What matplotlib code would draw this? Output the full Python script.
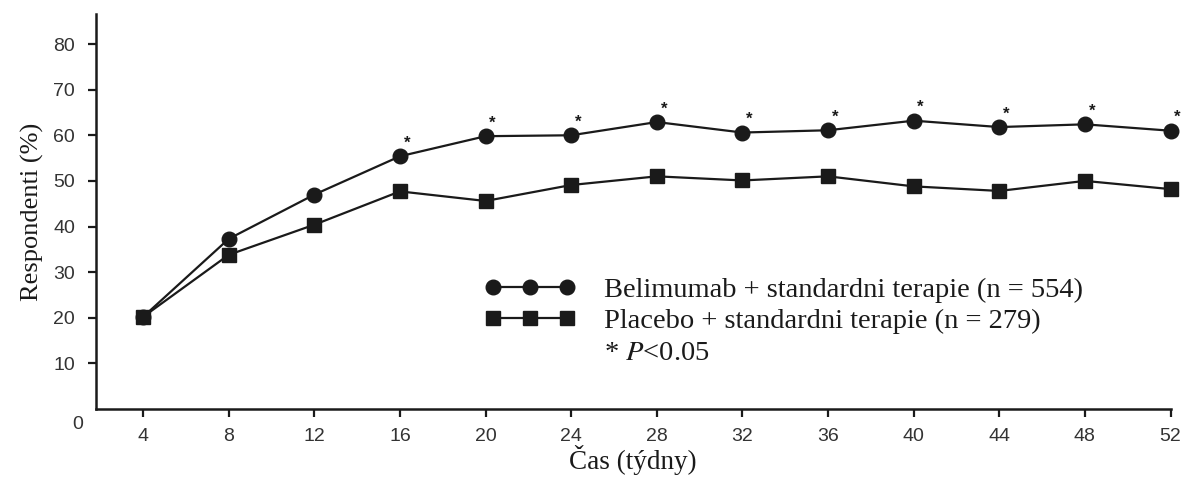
import numpy as np
import matplotlib.pyplot as plt
from matplotlib.lines import Line2D

plt.rcParams['mathtext.fontset'] = 'stix'

weeks = [4, 8, 12, 16, 20, 24, 28, 32, 36, 40, 44, 48, 52]
belimumab = [20.2, 37.3, 47.0, 55.4, 59.8, 60.0, 62.9, 60.6, 61.1, 63.2, 61.8, 62.4, 61.0]
placebo = [20.2, 33.8, 40.4, 47.7, 45.6, 49.1, 51.0, 50.1, 51.0, 48.8, 47.8, 50.0, 48.2]
signif = [False, False, False, True, True, True, True, True, True, True, True, True, True]

lab_bel = 'Belimumab + standardni terapie (n = 554)'
lab_pla = 'Placebo + standardni terapie (n = 279)'
lab_p = '* $P$<0.05'

serif = 'Liberation Serif'
sans = 'Liberation Sans'
ink = '#1a1a1a'

fig = plt.figure(figsize=(11.84, 4.97), dpi=100)
ax = fig.add_axes([0.0811, 0.177, 0.9075, 0.795])

l1, = ax.plot(weeks, belimumab, color=ink, lw=1.6, marker='o', ms=10.5, clip_on=False, zorder=3)
l2, = ax.plot(weeks, placebo, color=ink, lw=1.6, marker='s', ms=9.5, clip_on=False, zorder=3)

# significance stars
for w, b, s in zip(weeks, belimumab, signif):
    if s:
        ax.annotate('*', (w, b), xytext=(5, 4), textcoords='offset points',
                    fontsize=12, weight='bold', family=sans, color=ink,
                    ha='center', va='bottom')

ax.set_xlim(1.8, 52)
ax.set_ylim(0, 86.6)
ax.set_xticks(weeks)
ax.set_yticks(np.arange(10, 81, 10))
for sp in ['top', 'right']:
    ax.spines[sp].set_visible(False)
for sp in ['left', 'bottom']:
    ax.spines[sp].set_linewidth(1.8)
    ax.spines[sp].set_color(ink)
ax.tick_params(direction='out', length=6, width=1.6, color=ink, labelcolor='#333333',
               labelsize=14)
ax.tick_params(axis='x', pad=8)
ax.tick_params(axis='y', pad=9)
for t in ax.get_xticklabels() + ax.get_yticklabels():
    t.set_family(sans)
ax.text(-0.017, -0.04, '0', transform=ax.transAxes, fontsize=14, family=sans,
        color='#333333', ha='center', va='center')

ax.set_ylabel('Respondenti (%)', family=serif, fontsize=19, color=ink, labelpad=7)
ax.set_xlabel('Čas (týdny)', family=serif, fontsize=19.5, color=ink, labelpad=0)

blank = Line2D([], [], color='none')
leg = ax.legend([l1, l2, blank], [lab_bel, lab_pla, lab_p], numpoints=3,
                frameon=False, prop={'family': serif, 'size': 20.5},
                handlelength=3.2, handletextpad=1.0, labelspacing=0.2,
                borderpad=0.4, loc='upper left', bbox_to_anchor=(0.338, 0.4))
for t in leg.get_texts():
    t.set_color(ink)

fig.savefig('out.png', dpi=100)
